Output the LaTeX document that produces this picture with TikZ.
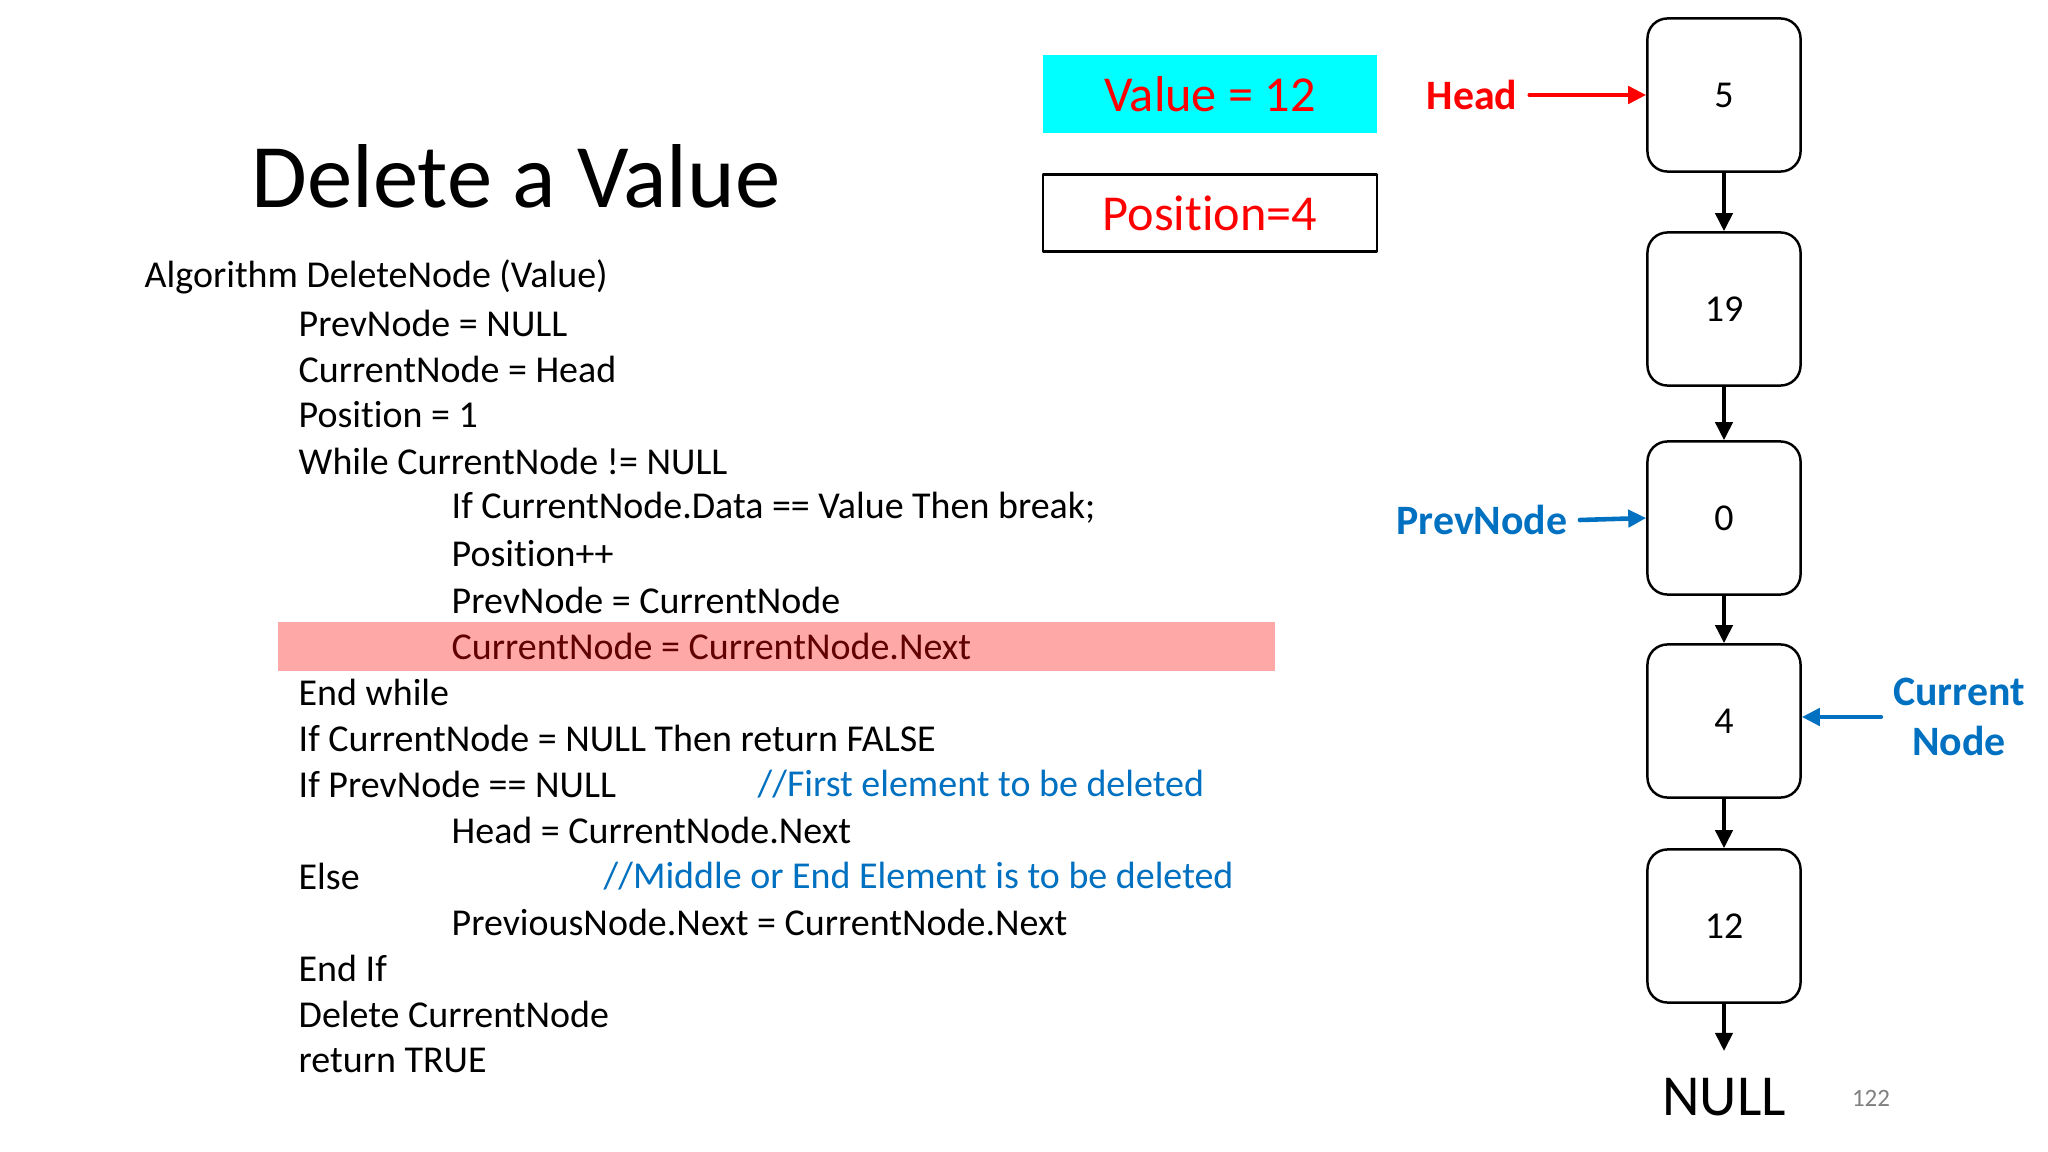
\documentclass[tikz,border=0pt]{standalone}
\usepackage{fontspec}
\setmainfont{Carlito}[Ligatures=NoCommon]
\usetikzlibrary{arrows.meta}
\definecolor{slidered}{RGB}{255,0,0}
\definecolor{slideblue}{RGB}{0,112,192}
\definecolor{slidecyan}{RGB}{0,255,255}
\definecolor{hilite}{RGB}{255,168,168}
\definecolor{hilitetext}{RGB}{96,0,0}

\begin{document}
\begin{tikzpicture}[line cap=round,line join=round,>={Triangle[length=0.18cm,width=0.17cm]},x=0.01cm,y=-0.01cm,
  code/.style={anchor=west,inner sep=0pt,font=\fontsize{10.8}{13}\selectfont},
  listnode/.style={draw,line width=0.7pt,rounded corners=0.2cm,minimum width=1.53cm,minimum height=1.53cm,font=\fontsize{10.8}{13}\selectfont},
  link/.style={->,line width=1.1pt}]
\useasboundingbox (0,0) rectangle (2048,1152);
% title
\node[font=\fontsize{25.8}{30}\selectfont] (title) at (516,176) {Delete a Value};
% highlighted line
\fill[hilite] (278,622) rectangle (1275,671);
% algorithm
\node[code] (l1) at (144,277) {Algorithm DeleteNode (Value)};
\node[code] (l2) at (298,323) {PrevNode = NULL};
\node[code] (l3) at (298,369) {CurrentNode = Head};
\node[code] (l4) at (298,415) {Position = 1};
\node[code] (l5) at (298,461) {While CurrentNode != NULL};
\node[code] (l6) at (451,508) {If CurrentNode.Data == Value Then break;};
\node[code] (l7) at (451,554) {Position++};
\node[code] (l8) at (451,600) {PrevNode = CurrentNode};
\node[code, text=hilitetext] (l9) at (451,646) {CurrentNode = CurrentNode.Next};
\node[code] (l10) at (298,692) {End while};
\node[code] (l11) at (298,738) {If CurrentNode = NULL Then return FALSE};
\node[code] (l12) at (298,784) {If PrevNode == NULL};
\node[code, text=slideblue] (c12) at (757,784) {//First element to be deleted};
\node[code] (l13) at (451,830) {Head = CurrentNode.Next};
\node[code] (l14) at (298,876) {Else};
\node[code, text=slideblue] (c14) at (603,876) {//Middle or End Element is to be deleted};
\node[code] (l15) at (451,922) {PreviousNode.Next = CurrentNode.Next};
\node[code] (l16) at (298,968) {End If};
\node[code] (l17) at (298,1014) {Delete CurrentNode};
\node[code] (l18) at (298,1060) {return TRUE};
% value and position
\node[fill=slidecyan, minimum width=3.34cm, minimum height=0.77cm, text=slidered,
  font=\fontsize{14.3}{17}\selectfont] (valbox) at (1210,94) {Value = 12};
\node[draw, line width=0.7pt, minimum width=3.34cm, minimum height=0.77cm, text=slidered,
  font=\fontsize{14.3}{17}\selectfont] (posbox) at (1210,213) {Position=4};
% list
\node[listnode] (n5) at (1724,95) {5};
\node[listnode] (n19) at (1724,309) {19};
\node[listnode] (n0) at (1724,518) {0};
\node[listnode] (n4) at (1724,721) {4};
\node[listnode] (n12) at (1724,926) {12};
\coordinate (nullend) at (1724,1051);
\node[font=\fontsize{16.5}{20}\selectfont] (null) at (1724,1097) {NULL};
\node[text=gray, font=\fontsize{7.1}{9}\selectfont] (pagenum) at (1871,1098) {122};
\draw[link] (n5) -- (n19);
\draw[link] (n19) -- (n0);
\draw[link] (n0) -- (n4);
\draw[link] (n4) -- (n12);
\draw[link] (n12) -- (nullend);
% pointers
\node[text=slidered, font=\bfseries\fontsize{11.9}{14}\selectfont] (headlbl) at (1472,95) {Head};
\draw[->, slidered, line width=1.3pt] (headlbl.east) -- (n5.west);
\node[text=slideblue, font=\bfseries\fontsize{11.9}{14}\selectfont] (prevlbl) at (1482,520) {PrevNode};
\draw[->, slideblue, line width=1.3pt] (prevlbl.east) -- (n0.west);
\node[text=slideblue, align=center, font=\bfseries\fontsize{11.9}{14.2}\selectfont] (curlbl) at (1959,717) {Current\\Node};
\draw[->, slideblue, line width=1.3pt] (curlbl.west) -- (curlbl.west -| n4.east);
\end{tikzpicture}
\end{document}
